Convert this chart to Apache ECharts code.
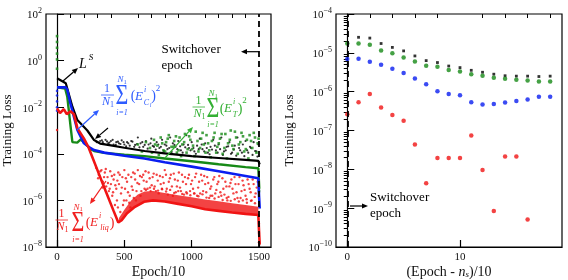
<!DOCTYPE html>
<html><head><meta charset="utf-8">
<script src="https://cdn.jsdelivr.net/npm/echarts@6/dist/echarts.min.js"></script>
<style>html,body{margin:0;padding:0;background:#fff}#c{width:568px;height:280px}</style>
</head><body><div id="c"></div>
<script>
// ---------------- DATA (x = Epoch/10, y = log10 of training loss) ----------------
const leftXTicks = [0, 500, 1000, 1500];
const leftXMinorTicks = [100,200,300,400,600,700,800,900,1100,1200,1300,1400];
const leftYTickExps = [-8, -6, -4, -2, 0, 2];
const rightXTicks = [0, 10];
const rightXMinorTicks = [2,4,6,8,12,14,16,18];
const rightYTickExps = [-10, -9, -8, -7, -6, -5, -4];

const lineBlackLS = [[0,-0.76],[65,-0.97],[114,-1.98],[151,-2.55],[225,-3.0],[275,-3.41],[320,-3.56],[400,-3.64],[500,-3.74],[650,-3.88],[800,-3.98],[1000,-4.1],[1200,-4.18],[1400,-4.26],[1495,-4.3],[1505,-4.45]];
const lineGreenT = [[0,-1.15],[60,-1.2],[76,-1.55],[100,-2.8],[114,-3.5],[150,-3.52],[176,-3.38],[215,-3.6],[250,-3.8],[275,-3.88],[350,-3.96],[500,-4.04],[650,-4.1],[800,-4.2],[1000,-4.32],[1200,-4.45],[1400,-4.57],[1495,-4.62],[1502,-5.5]];
const lineBlueC = [[0,-1.15],[65,-1.15],[76,-1.25],[100,-1.85],[151,-2.98],[200,-3.55],[250,-3.76],[275,-3.84],[350,-3.95],[500,-4.08],[650,-4.2],[800,-4.36],[1000,-4.55],[1200,-4.75],[1400,-4.95],[1495,-5.05],[1500,-5.8],[1505,-6.35]];
const lineRedLiq = [[0,-2.05],[22,-2.25],[50,-2.08],[72,-2.3],[100,-2.17],[125,-2.3],[151,-2.9],[200,-3.35],[232,-3.7],[300,-4.7],[361,-5.6],[420,-6.45],[455,-6.95],[480,-6.85],[520,-6.55],[572,-6.3],[646,-6.06],[713,-6.0],[800,-6.05],[900,-6.15],[1000,-6.25],[1100,-6.38],[1200,-6.45],[1300,-6.52],[1400,-6.58],[1495,-6.63],[1500,-7.3],[1505,-7.9]];
const redBandUpper = [[460,-6.75],[500,-6.4],[550,-6.0],[600,-5.75],[650,-5.62],[713,-5.6],[800,-5.68],[900,-5.78],[1000,-5.86],[1100,-5.96],[1200,-6.04],[1300,-6.12],[1400,-6.2],[1495,-6.27]];
const redBandLower = [[460,-6.95],[500,-6.7],[550,-6.42],[600,-6.2],[650,-6.06],[713,-6.0],[800,-6.05],[900,-6.15],[1000,-6.25],[1100,-6.38],[1200,-6.45],[1300,-6.52],[1400,-6.58],[1495,-6.63]];

const scatterBlack = [[320,-3.45],[340,-3.5],[360,-3.4],[380,-3.55],[400,-3.45],[420,-3.6],[440,-3.5],[460,-3.55],[480,-3.42],[500,-3.6],[520,-3.5],[540,-3.65],[560,-3.48],[580,-3.62],[600,-3.3],[620,-3.55],[640,-3.7],[660,-3.45],[680,-3.6],[700,-3.35],[720,-3.7],[740,-3.5],[760,-3.75],[780,-3.4],[800,-3.6],[820,-3.8],[840,-3.3],[860,-3.55],[880,-3.7],[900,-3.45],[920,-3.85],[940,-3.6],[960,-3.2],[980,-3.75],[1000,-3.5],[1020,-3.9],[1040,-3.65],[1060,-3.35],[1080,-3.8],[1100,-3.55],[1120,-3.95],[1140,-3.7],[1160,-3.4],[1180,-3.85],[1200,-3.6],[1220,-3.3],[1240,-3.9],[1260,-3.7],[1280,-3.5],[1300,-3.95],[1320,-3.65],[1340,-3.3],[1360,-3.85],[1380,-3.6],[1400,-3.45],[1420,-3.95],[1440,-3.75],[1460,-3.5],[1480,-3.9],[1495,-3.6],
  [295,-3.5],[333,-3.42],[347,-3.58],[371,-3.47],[389,-3.52],[413,-3.4],[436,-3.62],[452,-3.48],[471,-3.58],[494,-3.5],[513,-3.68],[529,-3.55],[551,-3.45],[573,-3.7],[594,-3.58],[612,-3.72],[633,-3.5],[651,-3.62],[673,-3.78],[694,-3.55],[711,-3.66],[733,-3.82],[752,-3.6],[771,-3.7],[793,-3.88],[812,-3.65],[833,-3.75],[851,-3.92],[872,-3.62],[893,-3.8],[914,-3.68],[933,-3.95],[952,-3.72],[973,-3.62],[991,-3.85],[1013,-3.75],[1031,-4.0],[1052,-3.8],[1074,-3.6],[1093,-3.9],[1112,-3.75],[1133,-4.02],[1151,-3.82],[1172,-3.65],[1193,-3.95],[1211,-3.8],[1232,-4.05],[1253,-3.85],[1271,-3.68],[1292,-4.0],[1313,-3.82],[1331,-4.08],[1352,-3.75],[1373,-3.95],[1391,-4.1],[1412,-3.85],[1433,-3.7],[1452,-4.05],[1471,-3.88],[1488,-4.12]];
const scatterGreen = [[0,1.05],[0,0.8],[0,0.55],[0,0.3],[0,0.05],[0,-0.35],[600,-3.6],[630,-3.9],[660,-3.5],[690,-3.75],[720,-3.4],[745,-3.65],[770,-3.3],[790,-3.85],[810,-3.5],[830,-3.2],[850,-3.7],[870,-3.45],[890,-3.95],[910,-3.3],[930,-3.6],[950,-3.15],[970,-3.8],[990,-3.4],[1010,-3.65],[1030,-3.05],[1050,-3.9],[1070,-3.35],[1090,-3.6],[1110,-3.2],[1130,-3.85],[1150,-3.45],[1170,-3.1],[1190,-3.7],[1210,-3.35],[1230,-4.0],[1250,-3.15],[1270,-3.55],[1290,-3.0],[1310,-3.8],[1330,-3.3],[1350,-3.6],[1370,-3.1],[1390,-3.9],[1410,-3.4],[1430,-3.2],[1450,-3.75],[1470,-3.3],[1490,-3.55],[1500,-5.6],
  [705,-3.95],[728,-3.6],[756,-4.05],[781,-3.55],[803,-3.9],[822,-3.35],[844,-4.0],[866,-3.7],[883,-3.25],[902,-3.85],[921,-4.1],[944,-3.5],[962,-3.95],[981,-3.25],[1003,-3.8],[1021,-4.1],[1043,-3.45],[1062,-3.75],[1081,-3.1],[1103,-3.95],[1122,-3.55],[1141,-4.15],[1163,-3.3],[1182,-3.95],[1201,-3.55],[1222,-3.15],[1243,-3.75],[1262,-4.2],[1283,-3.4],[1302,-3.65],[1321,-3.05],[1342,-4.0],[1361,-3.5],[1381,-3.25],[1402,-3.8],[1421,-4.2],[1441,-3.45],[1461,-3.1],[1481,-3.95],[1497,-3.35]];
const scatterBlue = [[0,-1.3],[0,-1.5],[0,-1.75],[0,-2.0],[0,-2.15]];
const scatterRed = [[0,-2.98],[290,-4.6],[310,-4.9],[330,-4.7],[340,-5.2],[355,-4.8],[365,-5.4],[375,-5.0],[385,-5.6],[395,-4.75],[400,-5.3],[410,-5.8],[420,-5.1],[425,-4.9],[430,-6.2],[440,-5.5],[445,-6.0],[455,-4.8],[460,-5.3],[470,-6.5],[475,-5.7],[485,-5.0],[490,-6.2],[500,-4.7],[505,-5.5],[515,-6.0],[520,-5.2],[530,-4.9],[540,-5.8],[545,-6.3],[555,-5.4],[565,-4.8],[570,-5.9],[580,-5.1],[590,-5.6],[600,-4.7],[610,-5.3],[620,-5.8],[630,-5.0],[640,-4.9],[650,-5.5],[665,-5.2],[680,-4.8],[695,-5.6],[710,-5.0],[725,-5.4],[740,-4.9],[755,-5.7],[770,-5.3],[785,-5.0],[800,-4.7],[815,-5.5],[830,-5.2],[845,-4.9],[860,-5.8],[875,-5.1],[890,-5.4],[905,-4.8],[920,-5.6],[935,-5.2],[950,-5.0],[965,-5.7],[980,-4.9],[995,-5.3],[1010,-5.5],[1025,-5.0],[1040,-5.8],[1055,-5.2],[1070,-4.9],[1085,-5.6],[1100,-5.3],[1115,-5.0],[1130,-5.9],[1145,-5.4],[1160,-5.1],[1175,-5.7],[1190,-5.3],[1205,-4.95],[1220,-5.8],[1235,-5.5],[1250,-5.2],[1265,-6.0],[1280,-5.4],[1295,-5.1],[1310,-5.7],[1325,-5.3],[1340,-5.9],[1355,-5.0],[1370,-5.6],[1385,-5.35],[1400,-5.8],[1415,-5.1],[1430,-5.5],[1445,-6.0],[1460,-5.3],[1475,-5.7],[1490,-5.2],[1500,-7.0],[1500,-7.4],[1500,-7.8],
  [305,-5.05],[322,-4.75],[337,-5.45],[349,-5.0],[362,-4.65],[378,-5.25],[391,-5.5],[407,-4.95],[416,-5.65],[433,-5.35],[448,-5.15],[452,-6.3],[466,-4.9],[481,-5.45],[497,-6.0],[511,-5.05],[527,-5.65],[536,-6.1],[551,-5.0],[562,-5.55],[577,-4.85],[586,-6.0],[597,-5.25],[616,-4.95],[626,-5.6],[644,-5.15],[657,-4.75],[672,-5.5],[688,-5.05],[703,-5.35],[718,-4.85],[734,-5.6],[748,-5.15],[764,-4.95],[779,-5.5],[792,-5.25],[809,-4.9],[823,-5.75],[838,-5.05],[853,-5.4],[867,-4.85],[882,-5.65],[897,-5.15],[913,-5.45],[928,-4.9],[943,-5.75],[958,-5.3],[973,-5.05],[988,-5.6],[1003,-5.15],[1018,-5.7],[1033,-4.85],[1048,-5.45],[1063,-5.7],[1078,-5.15],[1093,-4.95],[1108,-5.65],[1123,-5.25],[1138,-5.5],[1153,-5.8],[1168,-5.0],[1183,-5.55],[1198,-5.2],[1213,-5.65],[1228,-5.05],[1243,-5.75],[1258,-5.4],[1273,-5.85],[1288,-5.25],[1303,-5.5],[1318,-5.0],[1333,-5.65],[1348,-5.3],[1363,-5.9],[1378,-5.15],[1393,-5.55],[1408,-5.95],[1423,-5.3],[1438,-5.65],[1453,-5.1],[1468,-5.85],[1483,-5.45],
  [660,-5.55],[690,-5.45],[720,-5.5],[750,-5.58],[780,-5.52],[810,-5.62],[840,-5.55],[870,-5.68],[900,-5.6],[930,-5.72],[960,-5.65],[990,-5.78],[1020,-5.7],[1050,-5.82],[1080,-5.74],[1110,-5.88],[1140,-5.8],[1170,-5.92],[1200,-5.85],[1230,-5.98],[1260,-5.9],[1290,-6.02],[1320,-5.95],[1350,-6.05],[1380,-6.0],[1410,-6.1],[1440,-6.02],[1470,-6.12]];

// right panel: x = (Epoch - n_s)/10, values are log10 of loss
const rightBlackStart = 1;
const rightBlack = [-4.6,-4.62,-4.76,-4.86,-4.95,-5.08,-5.2,-5.25,-5.34,-5.38,-5.45,-5.5,-5.55,-5.59,-5.6,-5.6,-5.61,-5.6];
const rightGreenStart = 0;
const rightGreen = [-4.76,-4.76,-4.79,-4.94,-5.01,-5.12,-5.22,-5.33,-5.36,-5.44,-5.48,-5.55,-5.59,-5.64,-5.67,-5.69,-5.71,-5.74,-5.74];
const rightBlueStart = 0;
const rightBlue = [-5.16,-5.15,-5.23,-5.31,-5.41,-5.52,-5.66,-5.81,-5.99,-6.06,-6.09,-6.27,-6.33,-6.32,-6.28,-6.24,-6.2,-6.13,-6.13];
const rightRedStart = 0;
const rightRed = [-6.58,-6.27,-6.06,-6.41,-6.6,-6.75,-7.36,-8.36,-7.71,-7.71,-7.71,-7.13,-8.02,-9.07,-7.67,-7.67,-9.29];

// ---------------- CHART ----------------
const SERIF = '"Liberation Serif", "DejaVu Serif", serif';
const BLACK = '#000000', GREEN = '#178a17', BLUE = '#0a1ef0', RED = '#f01414';
const GT = '#34b034', BT = '#2e5cff', RT = '#f02020';
const P = e => Math.pow(10, e);
const pts = arr => arr.map(p => [p[0], P(p[1])]);
const idx = (arr, s) => arr.map((e, i) => [s + i, P(e)]);

function powLabel(v) {
  const e = Math.round(Math.log10(v));
  return '{b|10}{s|' + (e < 0 ? '\u2212' + (-e) : e) + '}';
}
const powRich = {
  b: {fontSize: 11, fontFamily: SERIF, color: '#111', lineHeight: 14, verticalAlign: 'bottom'},
  s: {fontSize: 8, fontFamily: SERIF, color: '#111', lineHeight: 8, verticalAlign: 'top'}
};
const minorRight = [];
rightYTickExps.slice(0, -1).forEach(d => { for (let m = 2; m <= 9; m++) minorRight.push(m * P(d)); });

function xAxisMajor(grid, min, max, ticks, name, nameRich) {
  return {type: 'value', gridIndex: grid, min, max,
    name, nameLocation: 'middle', nameGap: 18, nameMoveOverlap: false,
    nameTextStyle: {fontFamily: SERIF, fontSize: 14, color: '#111', rich: nameRich},
    axisLine: {show: true, onZero: false, lineStyle: {color: '#000', width: 1.2}},
    axisTick: {show: true, inside: true, length: 7, customValues: ticks, lineStyle: {color: '#000', width: 1.2}},
    axisLabel: {customValues: ticks, formatter: v => String(v), fontFamily: SERIF, fontSize: 11, color: '#111', margin: 5},
    splitLine: {show: false}};
}
function xAxisMinor(grid, min, max, ticks) {
  return {type: 'value', gridIndex: grid, min, max,
    axisLine: {show: false}, axisLabel: {show: false}, splitLine: {show: false},
    axisTick: {show: true, inside: true, length: 4, customValues: ticks, lineStyle: {color: '#000', width: 1}}};
}
function yAxisLog(grid, exps, nameGap, minor) {
  const vals = minor ? minorRight : exps.map(P);
  return {type: 'log', logBase: 10, gridIndex: grid, min: P(exps[0]), max: P(exps[exps.length - 1]),
    name: minor ? '' : 'Training Loss', nameLocation: 'middle', nameGap, nameMoveOverlap: false,
    nameTextStyle: {fontFamily: SERIF, fontSize: 13, color: '#111'},
    axisLine: {show: !minor, lineStyle: {color: '#000', width: 1.2}},
    axisTick: {show: true, inside: true, length: minor ? 3.5 : 7, customValues: vals, lineStyle: {color: '#000', width: 1}},
    axisLabel: minor ? {show: false} : {customValues: vals, formatter: powLabel, rich: powRich, margin: 4},
    splitLine: {show: false}};
}

function T(x, y, text, size, color, italic, align, extra) {
  return Object.assign({type: 'text', x, y, z: 100,
    style: {text, fill: color, fontSize: size, fontFamily: SERIF, fontStyle: italic ? 'italic' : 'normal',
      align: align || 'center', textAlign: align || 'center', verticalAlign: 'middle', textVerticalAlign: 'middle'}}, extra || {});
}
function Lseg(x1, y1, x2, y2, color, w) {
  return {type: 'line', z: 100, shape: {x1, y1, x2, y2}, style: {stroke: color, lineWidth: w || 0.8}};
}
function arrow(x1, y1, x2, y2, color, w) {
  const a = Math.atan2(y2 - y1, x2 - x1), L = 6, W = 2.6;
  const bx = x2 - L * Math.cos(a), by = y2 - L * Math.sin(a);
  return [Lseg(x1, y1, bx, by, color, w || 1.2),
    {type: 'polygon', z: 100, shape: {points: [[x2, y2], [bx + W * Math.sin(a), by - W * Math.cos(a)], [bx - W * Math.sin(a), by + W * Math.cos(a)]]}, style: {fill: color}}];
}
function sigma(x, y, color) { return T(x, y, '\u03A3', 22, color, false, 'center', {scaleY: 1.35}); }

const graphics = [].concat(
  [T(83, 64, 'L', 14, BLACK, true), T(91, 58, 'S', 9, BLACK, true)], arrow(63, 81, 78, 68, BLACK),
  [T(107, 89, '1', 12, BT), Lseg(101, 95, 114, 95, BT), T(106, 102, 'N', 12, BT, true), T(112, 105, '1', 8, BT),
   sigma(122, 96.5, BT), T(120.5, 80, 'N', 9, BT, true), T(125, 82, '1', 6.5, BT), T(122, 112.5, 'i=1', 8, BT, true),
   T(133, 96.5, '(', 14, BT), T(139, 96.5, 'E', 13, BT, true), T(145, 89.5, 'i', 8, BT, true), T(146.5, 102.5, 'C', 8, BT, true),
   T(150.5, 105, 'l', 6, BT, true), T(153.5, 96.5, ')', 14, BT), T(158, 88.5, '2', 9, BT)],
  arrow(77, 130, 99, 110, BT),
  arrow(108, 128, 95, 139, BLACK),
  [T(198.5, 101, '1', 12, GT), Lseg(192.5, 107, 205, 107, GT), T(197.5, 114, 'N', 12, GT, true), T(203.5, 117, '1', 8, GT),
   sigma(213, 109.5, GT), T(211.5, 94, 'N', 9, GT, true), T(216, 96, '1', 6.5, GT), T(213, 125, 'i=1', 8, GT, true),
   T(222, 109, '(', 14, GT), T(228, 109, 'E', 13, GT, true), T(234, 102, 'i', 8, GT, true), T(235, 115, 'T', 8, GT, true),
   T(240, 109, ')', 14, GT), T(244.5, 101, '2', 9, GT)],
  arrow(165, 158, 193, 127, GT),
  [T(61.5, 214, '1', 12, RT), Lseg(55.5, 220, 68, 220, RT), T(60.5, 227, 'N', 12, RT, true), T(66.5, 230, '1', 8, RT),
   sigma(78, 223, RT), T(76.5, 207.5, 'N', 9, RT, true), T(81, 209.5, '1', 6.5, RT), T(78, 239.5, 'i=1', 8, RT, true),
   T(88, 223, '(', 14, RT), T(94, 223, 'E', 13, RT, true), T(100, 216, 'i', 8, RT, true), T(104.5, 227.5, 'liq', 8, RT, true),
   T(112, 223, ')', 14, RT)],
  arrow(106, 181, 90, 204, RT),
  [T(161.5, 50, 'Switchover', 13, BLACK, false, 'left'), T(161.5, 66, 'epoch', 13, BLACK, false, 'left')],
  arrow(259, 51.7, 241, 51.7, BLACK),
  [T(370, 198, 'Switchover', 13, BLACK, false, 'left'), T(370, 213.5, 'epoch', 13, BLACK, false, 'left')],
  arrow(350, 206, 368, 206, BLACK)
);

const dashed = {type: [6, 4], color: '#000', width: 1.8};
const chart = echarts.init(document.getElementById('c'), null, {renderer: 'canvas'});
chart.setOption({
  animation: false,
  backgroundColor: '#fff',
  grid: [
    {left: 46, top: 14, width: 225, height: 233, show: true, borderColor: '#000', borderWidth: 1.2, containLabel: false, outerBoundsMode: 'none'},
    {left: 336, top: 14, width: 226, height: 233, show: true, borderColor: '#000', borderWidth: 1.2, containLabel: false, outerBoundsMode: 'none'}
  ],
  xAxis: [
    xAxisMajor(0, -82, 1589, leftXTicks, 'Epoch/10'),
    xAxisMinor(0, -82, 1589, leftXMinorTicks),
    xAxisMajor(1, -1, 19.05, rightXTicks, '(Epoch - {i|n}{sub|s})/10',
      {i: {fontFamily: SERIF, fontSize: 14, fontStyle: 'italic', color: '#111'}, sub: {fontFamily: SERIF, fontSize: 9, fontStyle: 'italic', color: '#111', verticalAlign: 'bottom', lineHeight: 12}}),
    xAxisMinor(1, -1, 19.05, rightXMinorTicks)
  ],
  yAxis: [
    yAxisLog(0, leftYTickExps, 32, false),
    yAxisLog(1, rightYTickExps, 40, false),
    yAxisLog(1, rightYTickExps, 40, true)
  ],
  graphic: {elements: graphics},
  series: [
    {type: 'scatter', xAxisIndex: 0, yAxisIndex: 0, data: pts(scatterBlack), symbolSize: 2.2, itemStyle: {color: BLACK}},
    {type: 'scatter', xAxisIndex: 0, yAxisIndex: 0, data: pts(scatterGreen), symbolSize: 2.6, symbol: 'rect', itemStyle: {color: GREEN}},
    {type: 'line', xAxisIndex: 0, yAxisIndex: 0, data: pts(lineBlackLS), showSymbol: false, lineStyle: {color: BLACK, width: 2.2},
      markLine: {silent: true, symbol: 'none', label: {show: false}, lineStyle: dashed, data: [{xAxis: 1500}]}},
    {type: 'line', xAxisIndex: 0, yAxisIndex: 0, data: pts(lineGreenT), showSymbol: false, lineStyle: {color: GREEN, width: 2.4}},
    {type: 'line', xAxisIndex: 0, yAxisIndex: 0, data: pts(lineBlueC), showSymbol: false, lineStyle: {color: BLUE, width: 2.6}},
    {type: 'scatter', xAxisIndex: 0, yAxisIndex: 0, data: pts(scatterBlue), symbolSize: 2.6, itemStyle: {color: BLUE}},
    {type: 'custom', xAxisIndex: 0, yAxisIndex: 0, data: pts(redBandUpper), encode: {x: 0, y: 1},
      renderItem: function (params, api) {
        if (params.dataIndex !== 0) return null;
        const poly = [];
        redBandUpper.forEach(p => poly.push(api.coord([p[0], P(p[1])])));
        redBandLower.slice().reverse().forEach(p => poly.push(api.coord([p[0], P(p[1])])));
        return {type: 'polygon', shape: {points: poly}, style: {fill: RED, opacity: 0.8}};
      }},
    {type: 'scatter', xAxisIndex: 0, yAxisIndex: 0, data: pts(scatterRed), symbolSize: 2.4, itemStyle: {color: RED}},
    {type: 'line', xAxisIndex: 0, yAxisIndex: 0, data: pts(lineRedLiq), showSymbol: false, lineStyle: {color: RED, width: 2.6}},
    {type: 'scatter', xAxisIndex: 2, yAxisIndex: 1, data: idx(rightBlack, rightBlackStart), symbol: 'rect', symbolSize: 2.8, itemStyle: {color: BLACK},
      markLine: {silent: true, symbol: 'none', label: {show: false}, lineStyle: dashed, data: [{xAxis: 0}]}},
    {type: 'scatter', xAxisIndex: 2, yAxisIndex: 1, data: idx(rightGreen, rightGreenStart), symbolSize: 4.5, itemStyle: {color: GREEN}},
    {type: 'scatter', xAxisIndex: 2, yAxisIndex: 1, data: idx(rightBlue, rightBlueStart), symbolSize: 4.5, itemStyle: {color: BLUE}},
    {type: 'scatter', xAxisIndex: 2, yAxisIndex: 1, data: idx(rightRed, rightRedStart), symbolSize: 4.5, itemStyle: {color: RED}}
  ]
});
</script></body></html>
